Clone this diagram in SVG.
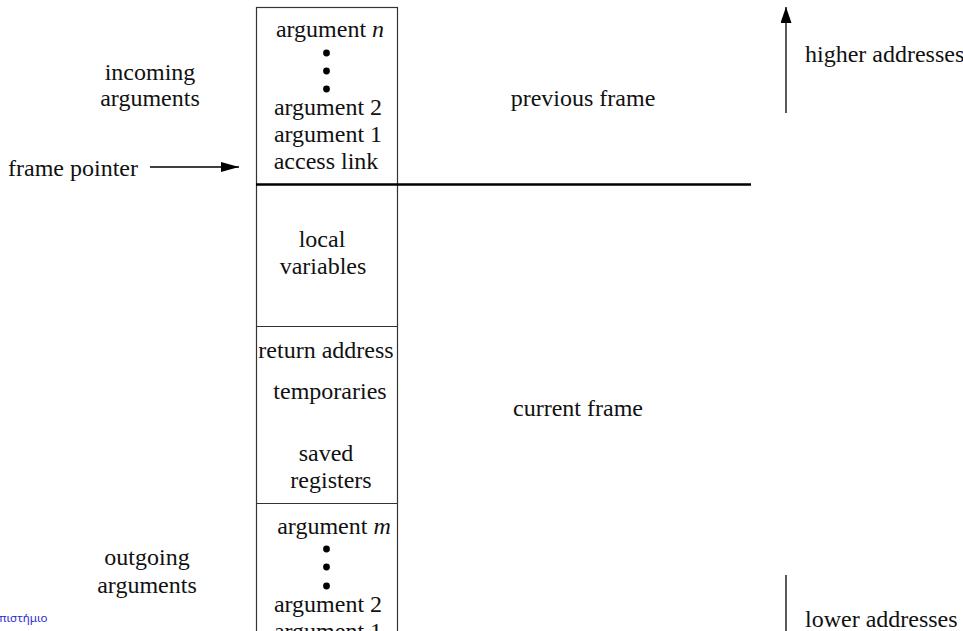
<svg xmlns="http://www.w3.org/2000/svg" width="963" height="631" viewBox="0 0 963 631">
<style>
text{font-family:"Liberation Serif","Times New Roman",serif;font-size:24px;fill:#111}
.m{text-anchor:middle}
.it{font-style:italic}
.box{fill:none;stroke:#333;stroke-width:1.2}
.dot{fill:#000}
.ln{stroke:#000;stroke-width:1.3;fill:none}
.greek{font-family:"Noto Sans","DejaVu Sans",sans-serif;font-size:11.5px;fill:#2a2ad0}
</style>
<defs>
<marker id="ahu" viewBox="0 0 16 11" refX="16" refY="5.5" markerWidth="16" markerHeight="11" markerUnits="userSpaceOnUse" orient="auto">
<path d="M0,0 L16,5.5 L0,11 z" fill="#000"/>
</marker>
<marker id="ahl" viewBox="0 0 18 10" refX="18" refY="5" markerWidth="18" markerHeight="10" markerUnits="userSpaceOnUse" orient="auto">
<path d="M0,0 L18,5 L0,10 z" fill="#000"/>
</marker>
</defs>
<g id="stack">
<rect class="box" x="256.5" y="7.5" width="141" height="640"/>
<line x1="256" y1="326.5" x2="397" y2="326.5" stroke="#333" stroke-width="1.2"/>
<line x1="256" y1="503.5" x2="397" y2="503.5" stroke="#333" stroke-width="1.2"/>
</g>
<g id="incoming-args-cell">
<text class="m" x="330" y="37">argument <tspan class="it">n</tspan></text>
<circle class="dot" cx="326.5" cy="53" r="3.4"/>
<circle class="dot" cx="326.5" cy="71" r="3.4"/>
<circle class="dot" cx="326.5" cy="89" r="3.4"/>
<text class="m" x="328" y="115">argument 2</text>
<text class="m" x="328" y="142">argument 1</text>
<text class="m" x="326" y="169">access link</text>
</g>
<g id="locals-cell">
<text class="m" x="322" y="247">local</text>
<text class="m" x="323" y="274">variables</text>
</g>
<g id="saved-cell">
<text class="m" x="326" y="358">return address</text>
<text class="m" x="330" y="399">temporaries</text>
<text class="m" x="326" y="461">saved</text>
<text class="m" x="331" y="488">registers</text>
</g>
<g id="outgoing-args-cell">
<text class="m" x="334" y="534">argument <tspan class="it">m</tspan></text>
<circle class="dot" cx="326.5" cy="549" r="3.4"/>
<circle class="dot" cx="326.5" cy="567" r="3.4"/>
<circle class="dot" cx="326.5" cy="586" r="3.4"/>
<text class="m" x="328" y="612">argument 2</text>
<text class="m" x="328" y="639">argument 1</text>
</g>
<g id="labels">
<text class="m" x="150" y="80">incoming</text>
<text class="m" x="150" y="106">arguments</text>
<text class="m" x="583" y="106">previous frame</text>
<text x="8" y="176">frame pointer</text>
<text x="805" y="62">higher addresses</text>
<text class="m" x="578" y="416">current frame</text>
<text class="m" x="147" y="565">outgoing</text>
<text class="m" x="147" y="593">arguments</text>
<text x="805" y="627">lower addresses</text>
<text class="greek" x="-1" y="622">πιστήμιο</text>
</g>
<g id="connectors">
<line x1="256" y1="184.5" x2="751" y2="184.5" stroke="#000" stroke-width="2.6"/>
<line class="ln" x1="150" y1="167" x2="239" y2="167" marker-end="url(#ahl)"/>
<line class="ln" x1="786" y1="113" x2="786" y2="7" marker-end="url(#ahu)"/>
<line class="ln" x1="786" y1="575" x2="786" y2="631"/>
</g>
</svg>
